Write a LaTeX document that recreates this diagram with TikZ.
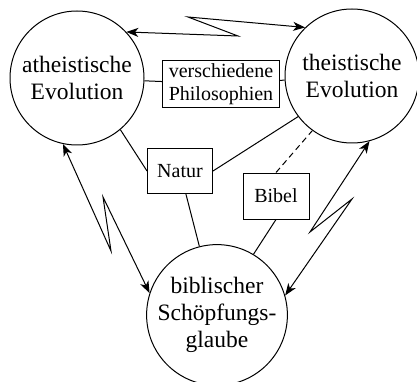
\documentclass[tikz,border=0pt]{standalone}
\usepackage{fontspec}
\setmainfont{Liberation Serif}
\usetikzlibrary{arrows.meta}
\begin{document}
\begin{tikzpicture}[x=1pt, y=-1pt,
  circ/.style={shape=circle, draw=black, line width=1pt, minimum size=134pt, inner sep=0pt, align=center, font=\fontsize{23.5}{27}\selectfont},
  box/.style={shape=rectangle, draw=black, line width=1pt, align=center, font=\fontsize{20}{23}\selectfont},
  link/.style={-, line width=1pt, draw=black},
  zig/.style={{Stealth[length=12pt,width=9pt,inset=3.5pt]}-{Stealth[length=12pt,width=9pt,inset=3.5pt]}, line width=1pt, draw=black}]
\useasboundingbox (0,0) rectangle (417,382);
\node[circ] (AE) at (77,78) {atheistische\\Evolution};
\node[circ] (TE) at (352,76) {theistische\\Evolution};
\node[circ] (BS) at (217,315) {biblischer\\Schöpfungs-\\glaube};
\node[box, inner xsep=6pt, inner ysep=3pt] (phil) at (221,84) {verschiedene\\Philosophien};
\node[box, minimum width=65pt, minimum height=45pt] (natur) at (180,171) {Natur};
\node[box, minimum width=66pt, minimum height=46pt] (bibel) at (276,196) {Bibel};
\path [link] (AE) edge (phil);
\path [link] (phil) edge (TE);
\path [link] (AE.-50) edge (natur.west);
\path [link] (natur.east) edge (TE.217);
\path [link] (natur) edge (BS);
\path [link, dashed, dash pattern=on 6pt off 4pt] (bibel.north) edge (TE.234);
\path [link] (bibel.south) edge (BS.59);
\draw[zig] (AE.43) -- (238,36) -- (188,17) -- (TE.134);
\draw[zig] (AE.258) -- (111,251) -- (103,197) -- (BS.162);
\draw[zig] (TE.285) -- (310,232) -- (352,199) -- (BS.16);
\end{tikzpicture}
\end{document}
